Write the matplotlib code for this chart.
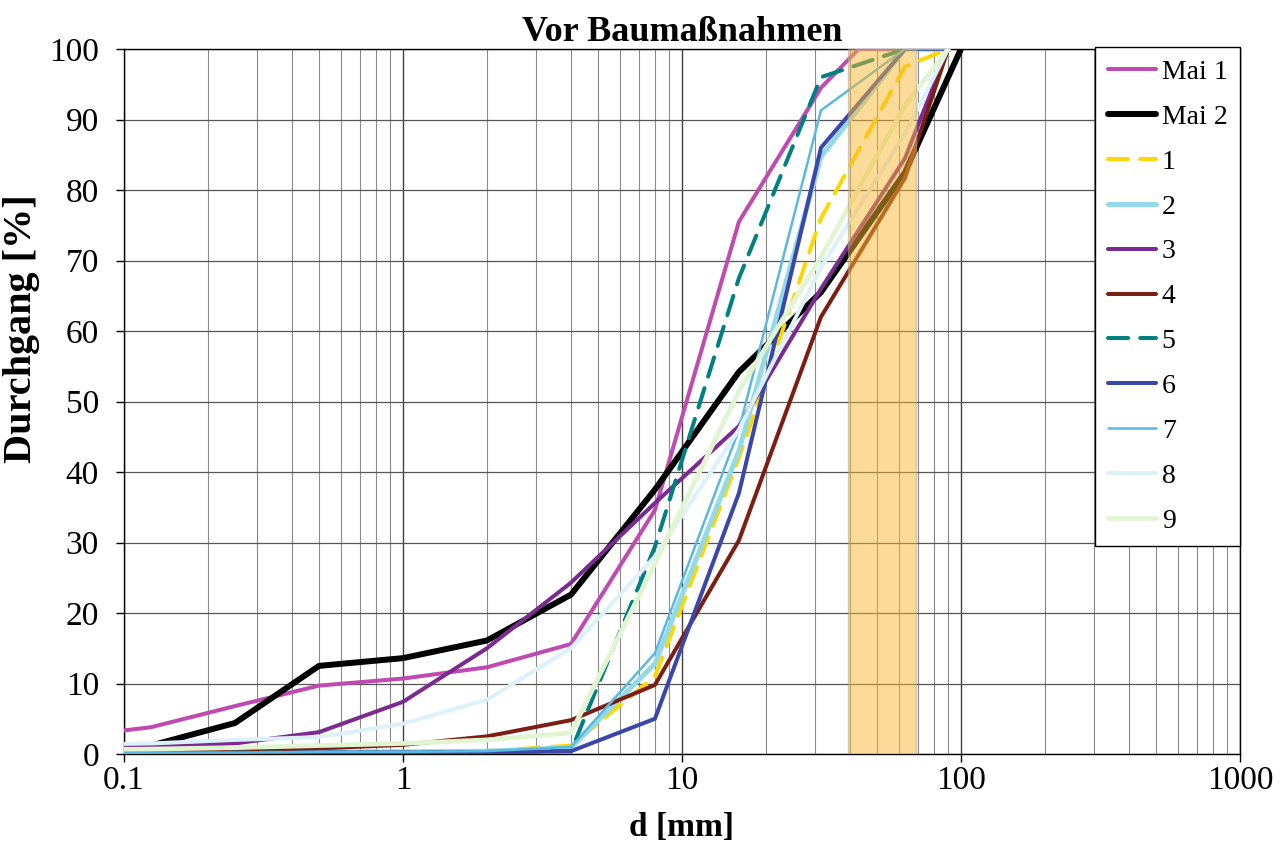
import numpy as np
import matplotlib
matplotlib.use("Agg")
import matplotlib.pyplot as plt
from matplotlib.ticker import FixedLocator, FuncFormatter, LogLocator, NullFormatter

plt.rcParams['font.family'] = ['Liberation Serif', 'DejaVu Serif']

# Siebweiten [mm]
d_mai1 = [0.063, 0.125, 0.25, 0.5, 1, 2, 4, 8, 16, 31.5, 43, 63]
d_mai2 = [0.063, 0.125, 0.25, 0.5, 1, 2, 4, 8, 16, 31.5, 63, 100]
d_probe = [0.063, 0.125, 0.25, 0.5, 1, 2, 4, 8, 16, 31.5, 63, 90]

# Durchgang [%]
mai1 = [2.4, 3.8, 6.8, 9.7, 10.7, 12.3, 15.6, 34.6, 75.5, 94.5, 100, 100]
mai2 = [0.5, 1.2, 4.4, 12.5, 13.6, 16.1, 22.6, 37.5, 54.2, 65.5, 82.5, 100]
p1 = [0.2, 0.2, 0.2, 0.3, 0.3, 0.4, 1.2, 11.0, 42.0, 76.0, 97.5, 100]
p2 = [0.2, 0.2, 0.2, 0.3, 0.3, 0.4, 0.9, 12.8, 43.0, 84.7, 100, 100]
p3 = [0.8, 1.0, 1.5, 3.1, 7.4, 15.0, 24.3, 35.6, 46.5, 66.0, 84.5, 100]
p4 = [0.2, 0.3, 0.5, 0.8, 1.3, 2.5, 4.8, 9.8, 30.3, 62.0, 81.7, 100]
p5 = [0.1, 0.1, 0.2, 0.2, 0.2, 0.3, 0.4, 29.4, 67.5, 96.0, 100, 100]
p6 = [0.1, 0.1, 0.1, 0.2, 0.2, 0.2, 0.4, 5.0, 37.0, 86.0, 100, 100]
p7 = [0.1, 0.2, 0.2, 0.3, 0.3, 0.4, 1.0, 14.3, 46.0, 91.3, 100, 100]
p8 = [1.3, 1.5, 2.0, 2.4, 4.3, 7.7, 15.0, 28.0, 46.0, 69.0, 88.0, 100]
p9 = [0.6, 0.7, 0.9, 1.2, 1.5, 2.0, 3.0, 27.0, 51.5, 70.5, 92.0, 100]

labels = ['Mai 1', 'Mai 2', '1', '2', '3', '4', '5', '6', '7', '8', '9']
band = (39.4, 69)

fig = plt.figure(figsize=(12.82, 8.42), dpi=100)
ax = fig.add_axes([0.0967, 0.1045, 0.8705, 0.8373])

styles = [
    (d_mai1, mai1, '#C04BB0', 2.9, None),
    (d_mai2, mai2, '#000000', 4.3, None),
    (d_probe, p1, '#FFD700', 2.9, (5, 3)),
    (d_probe, p2, '#93DAE8', 3.6, None),
    (d_probe, p3, '#7B2A8F', 2.9, None),
    (d_probe, p4, '#7B1E14', 2.9, None),
    (d_probe, p5, '#008080', 2.9, (5, 3)),
    (d_probe, p6, '#3A47A8', 2.9, None),
    (d_probe, p7, '#5BB8E0', 1.8, None),
    (d_probe, p8, '#DDF1FA', 2.9, None),
    (d_probe, p9, '#E2F5D2', 3.4, None),
]

for (x, y, c, lw, dash), lab in zip(styles, labels):
    line, = ax.plot(x, y, color=c, lw=lw, label=lab, zorder=3,
                    solid_capstyle='round', dash_capstyle='round')
    if dash:
        line.set_dashes(dash)

ax.axvspan(band[0], band[1], facecolor='#FBB731', edgecolor='#a0a0a0',
           lw=1.0, alpha=0.5, zorder=4)

ax.set_xscale('log')
ax.set_xlim(0.1, 1000)
ax.set_ylim(0, 100)
ax.set_yticks(np.arange(0, 101, 10))
ax.xaxis.set_major_locator(FixedLocator([0.1, 1, 10, 100, 1000]))
ax.xaxis.set_major_formatter(FuncFormatter(lambda v, p: '%g' % v))
ax.xaxis.set_minor_locator(LogLocator(base=10, subs=np.arange(2, 10), numticks=20))
ax.xaxis.set_minor_formatter(NullFormatter())

ax.grid(which='major', axis='x', color='#404040', lw=1.0, zorder=1)
ax.grid(which='minor', axis='x', color='#8a8a8a', lw=0.8, zorder=1)
ax.grid(which='major', axis='y', color='#555555', lw=0.9, zorder=1)
ax.set_axisbelow(True)

ax.tick_params(axis='both', which='major', labelsize=24, direction='out', length=6, width=1)
ax.tick_params(axis='x', which='minor', length=0)
ax.tick_params(axis='x', pad=2)
ax.tick_params(axis='y', pad=12)
for s in ax.spines.values():
    s.set_color('black')
    s.set_linewidth(1.0)

ax.set_title('Vor Baumaßnahmen', fontsize=26, fontweight='bold', pad=4)
ax.set_xlabel('d [mm]', fontsize=24, fontweight='bold', labelpad=12)
ax.set_ylabel('Durchgang [%]', fontsize=29, fontweight='bold')
ax.yaxis.set_label_coords(-0.075, 0.604)

leg = ax.legend(loc='upper right', bbox_to_anchor=(1.0, 1.003), borderaxespad=0,
                fontsize=20, frameon=True, fancybox=False, edgecolor='black',
                framealpha=1, labelspacing=0.7, handlelength=1.75, handletextpad=0.2,
                borderpad=0.45)
leg.get_frame().set_linewidth(1.0)
leg.set_zorder(10)

fig.savefig('out.png', dpi=100)
